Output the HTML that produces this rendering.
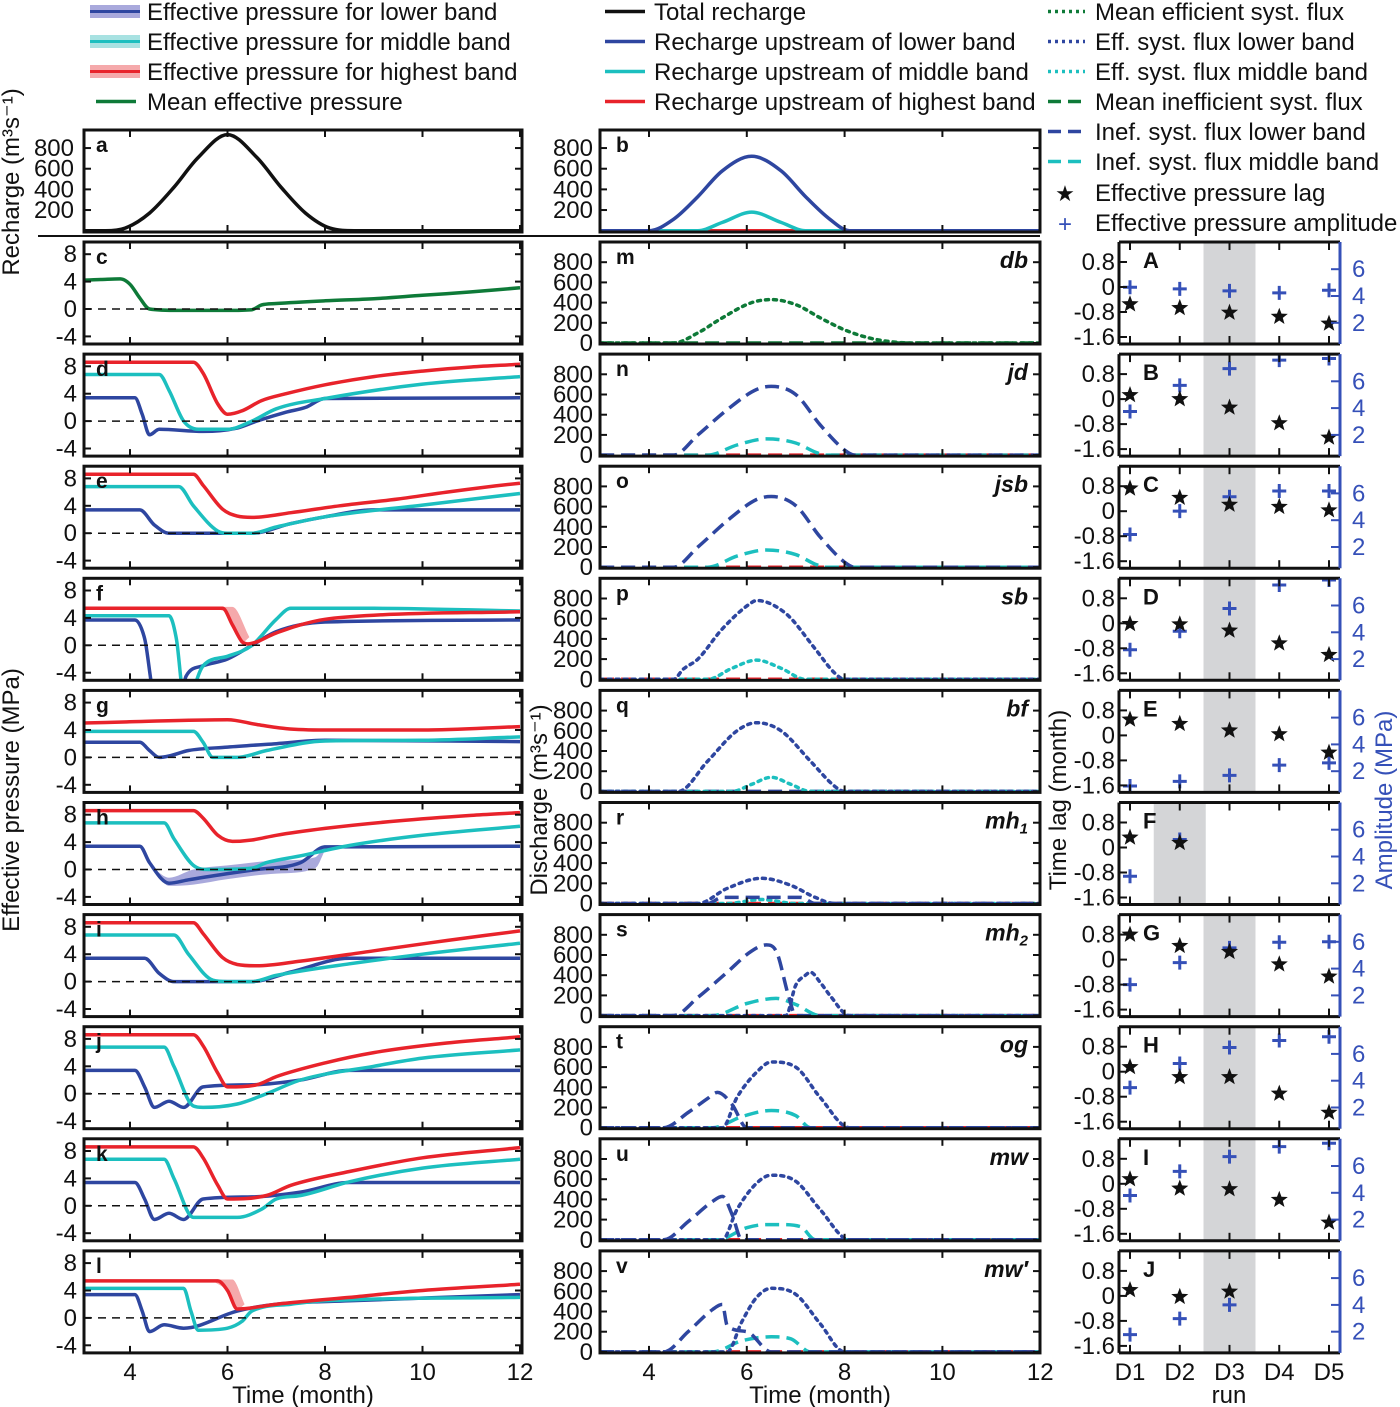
<!DOCTYPE html>
<html><head><meta charset="utf-8"><style>
html,body{margin:0;padding:0;background:#fff;}
svg{display:block;font-family:"Liberation Sans",sans-serif;}
</style></head><body>
<svg id="fig" width="1400" height="1407" viewBox="0 0 1400 1407" xmlns="http://www.w3.org/2000/svg">
<g id="legend" font-size="24" fill="#111">
 <g><rect x="90" y="5" width="50" height="13" fill="#a9a9dc"/><line x1="90" y1="11.5" x2="140" y2="11.5" stroke="#2e46a0" stroke-width="3"/><text x="147" y="20">Effective pressure for lower band</text></g>
 <g><rect x="90" y="35" width="50" height="13" fill="#a8e2e2"/><line x1="90" y1="41.5" x2="140" y2="41.5" stroke="#1cbfbf" stroke-width="3"/><text x="147" y="50">Effective pressure for middle band</text></g>
 <g><rect x="90" y="65" width="50" height="13" fill="#f5a9ab"/><line x1="90" y1="71.5" x2="140" y2="71.5" stroke="#e8232b" stroke-width="3"/><text x="147" y="80">Effective pressure for highest band</text></g>
 <g><line x1="96" y1="101.5" x2="136" y2="101.5" stroke="#0e7a38" stroke-width="3.5"/><text x="147" y="110">Mean effective pressure</text></g>
 <g><line x1="605" y1="11.5" x2="645" y2="11.5" stroke="#111" stroke-width="3.5"/><text x="654" y="20">Total recharge</text></g>
 <g><line x1="605" y1="41.5" x2="645" y2="41.5" stroke="#2e46a0" stroke-width="3.5"/><text x="654" y="50">Recharge upstream of lower band</text></g>
 <g><line x1="605" y1="71.5" x2="645" y2="71.5" stroke="#1cbfbf" stroke-width="3.5"/><text x="654" y="80">Recharge upstream of middle band</text></g>
 <g><line x1="605" y1="101.5" x2="645" y2="101.5" stroke="#e8232b" stroke-width="3.5"/><text x="654" y="110">Recharge upstream of highest band</text></g>
 <g><line x1="1048" y1="11.5" x2="1085" y2="11.5" stroke="#0e7a38" stroke-width="3.5" stroke-dasharray="3,4"/><text x="1095" y="20">Mean efficient syst. flux</text></g>
 <g><line x1="1048" y1="41.5" x2="1085" y2="41.5" stroke="#2e46a0" stroke-width="3.5" stroke-dasharray="3,4"/><text x="1095" y="50">Eff. syst. flux lower band</text></g>
 <g><line x1="1048" y1="71.5" x2="1085" y2="71.5" stroke="#1cbfbf" stroke-width="3.5" stroke-dasharray="3,4"/><text x="1095" y="80">Eff. syst. flux middle band</text></g>
 <g><line x1="1048" y1="101.5" x2="1085" y2="101.5" stroke="#0e7a38" stroke-width="3.5" stroke-dasharray="13,7"/><text x="1095" y="110">Mean inefficient syst. flux</text></g>
 <g><line x1="1048" y1="131.5" x2="1085" y2="131.5" stroke="#2e46a0" stroke-width="3.5" stroke-dasharray="13,7"/><text x="1095" y="140">Inef. syst. flux lower band</text></g>
 <g><line x1="1048" y1="161.5" x2="1085" y2="161.5" stroke="#1cbfbf" stroke-width="3.5" stroke-dasharray="13,7"/><text x="1095" y="170">Inef. syst. flux middle band</text></g>
 <g><text x="1065" y="201" font-size="22" text-anchor="middle">★</text><text x="1095" y="201">Effective pressure lag</text></g>
 <g><text x="1065" y="232" font-size="24" text-anchor="middle" fill="#3550b8">+</text><text x="1095" y="231">Effective pressure amplitude</text></g>
</g>
<line x1="38" y1="236" x2="1040" y2="236" stroke="#111" stroke-width="2"/>
<g font-size="24" fill="#111">
 <text transform="translate(19,182) rotate(-90)" text-anchor="middle">Recharge (m³s⁻¹)</text>
 <text transform="translate(19,800) rotate(-90)" text-anchor="middle">Effective pressure (MPa)</text>
 <text transform="translate(547,800) rotate(-90)" text-anchor="middle">Discharge (m³s⁻¹)</text>
 <text transform="translate(1066,800) rotate(-90)" text-anchor="middle">Time lag (month)</text>
 <text transform="translate(1392,800) rotate(-90)" text-anchor="middle" fill="#3550b8">Amplitude (MPa)</text>
 <text x="303" y="1403" text-anchor="middle">Time (month)</text>
 <text x="820" y="1403" text-anchor="middle">Time (month)</text>
 <text x="1229" y="1403" text-anchor="middle">run</text>
</g>
<g id="plots"></g>
</svg>
<script>
// ---------- data: total & band recharge (m3/s) ----------
const rechargeTotal = [[3,0],[3.5,0],[3.9,25],[4.4,170],[4.9,420],[5.4,710],[6.0,930],[6.6,710],[7.1,420],[7.6,170],[8.1,25],[8.6,0],[12,0]];
const rechargeLower = [[3,0],[4,0],[4.5,110],[5,330],[5.5,580],[6.1,720],[6.7,580],[7.2,330],[7.7,110],[8.1,0],[12,0]];
const rechargeMiddle = [[3,0],[5,0],[5.5,80],[6.1,180],[6.7,80],[7.2,0],[12,0]];
const rechargeHighest = [[3,0],[12,0]];
// ---------- effective pressure (MPa) ----------
const cMean = [[3,4.2],[3.4,4.3],[3.8,4.4],[4.0,3.6],[4.2,1.6],[4.4,0],[5,-0.2],[6,-0.2],[6.5,-0.1],[6.7,0.6],[7,0.8],[8,1.2],[9,1.5],[10,2.0],[11,2.5],[12,3.1]];
const dRed = [[3,8.6],[5.3,8.6],[5.5,7],[5.8,2.5],[6.0,1.0],[6.3,1.5],[6.7,3.0],[7.2,4.0],[8,5.3],[9,6.5],[10,7.3],[11,7.9],[12,8.3]];
const dCyan = [[3,6.8],[4.6,6.8],[4.8,4.5],[5.1,0],[5.4,-1.2],[6,-1.2],[6.5,0],[7,1.8],[8,3.3],[10,5.4],[12,6.5]];
const dBlue = [[3,3.4],[4.1,3.4],[4.25,1],[4.4,-2],[4.6,-1.2],[5.5,-1.5],[6.2,-1.0],[6.6,0],[7.2,1.3],[7.6,2.0],[8,3.3],[12,3.4]];
const eRed = [[3,8.6],[5.3,8.6],[5.5,7],[5.9,3.5],[6.2,2.5],[6.5,2.3],[7.3,3.0],[8.3,4.0],[9.5,5.0],[10.5,6.0],[11.5,6.9],[12,7.3]];
const eCyan = [[3,6.8],[5.0,6.8],[5.3,4],[5.8,0.3],[6,0],[6.5,0],[7,0.9],[8,2.4],[10,4.1],[12,5.8]];
const eBlue = [[3,3.4],[4.2,3.4],[4.5,1.2],[4.8,0],[6.5,0],[7.3,1.4],[8,2.4],[9,3.4],[12,3.4]];
const fRed = [[3,5.4],[5.9,5.4],[6.1,3],[6.3,0.5],[6.4,0.2],[7,1.8],[7.5,3],[8,3.8],[9,4.4],[12,4.9]];
const fCyan = [[3,4.3],[4.8,4.3],[4.95,1],[5.1,-7],[5.3,-7],[5.35,-5.5],[5.5,-3],[6,-1.6],[6.5,0],[7,3.8],[7.3,5.4],[9,5.4],[12,5.0]];
const fBlue = [[3,3.7],[4.1,3.7],[4.3,1],[4.5,-7],[5.05,-7],[5.15,-4.5],[5.5,-3],[6,-2],[6.5,0],[7,2],[8,3.4],[12,3.7]];
const gRed = [[3,5.0],[4,5.2],[6,5.5],[6.6,4.8],[7.2,4.2],[8,4.0],[10,4.0],[12,4.5]];
const gCyan = [[3,3.8],[5.3,3.8],[5.5,2.2],[5.7,0],[6.2,0],[6.8,1.0],[8,2.4],[10,2.5],[12,3.0]];
const gBlue = [[3,2.2],[4.2,2.2],[4.4,1],[4.6,0],[4.8,0.2],[5.2,1.0],[6,1.5],[7,2.0],[8,2.5],[12,2.3]];
const hRed = [[3,8.6],[5.3,8.6],[5.5,7.5],[5.8,5],[6.1,4.1],[6.5,4.3],[7,5.0],[8,6.0],[9.5,7.1],[11,7.9],[12,8.3]];
const hCyan = [[3,6.8],[4.7,6.8],[4.9,4.5],[5.3,0.6],[5.6,0],[6.5,0.2],[6.8,1.0],[7.5,2.0],[8.5,3.5],[10,5.0],[12,6.3]];
const hBlue = [[3,3.4],[4.2,3.4],[4.4,1],[4.8,-2],[5.2,-1.5],[6,-0.6],[6.6,0],[7.5,1.0],[8,3.3],[12,3.4]];
const hBlueLow = [[4.5,0],[4.8,-2.4],[5.3,-2.2],[6,-1.4],[7,-0.6],[7.8,0.2],[8,2.8]];
const hBlueHigh = [[4.5,0],[4.8,-1.2],[5.3,0],[6,0.6],[7,1.3],[7.8,1.8],[8,3.6]];
const iRed = [[3,8.6],[5.3,8.6],[5.5,7],[5.9,3.5],[6.2,2.5],[6.6,2.3],[7.5,3.0],[9,4.5],[10.5,6.0],[12,7.4]];
const iCyan = [[3,6.8],[4.9,6.8],[5.2,4],[5.7,0.2],[6,0],[6.5,0],[7,0.9],[8.5,2.6],[10,4.0],[12,5.6]];
const iBlue = [[3,3.4],[4.3,3.4],[4.6,1.2],[4.9,0],[6.5,0],[7.3,1.4],[8.5,3.4],[12,3.4]];
const jRed = [[3,8.6],[5.3,8.6],[5.5,7],[5.8,3],[6.0,1.0],[6.6,1.3],[7,2.5],[8,4.5],[9,6.0],[10.5,7.4],[12,8.3]];
const jCyan = [[3,6.8],[4.7,6.8],[4.9,4],[5.3,-1.8],[5.5,-2],[6.2,-1.5],[6.8,0],[7.5,2.0],[9,4.0],[10,5.2],[12,6.4]];
const jBlue = [[3,3.4],[4.1,3.4],[4.3,1],[4.5,-2],[4.8,-1.1],[5.1,-2],[5.5,1.0],[6.5,1.3],[7.5,2.0],[8.5,3.4],[12,3.4]];
const kRed = [[3,8.6],[5.3,8.6],[5.5,7],[5.8,3],[6.0,1.0],[6.8,1.5],[7.3,3.0],[8.5,5.0],[10,7.0],[12,8.5]];
const kCyan = [[3,6.8],[4.7,6.8],[4.9,4],[5.3,-1.7],[6.2,-1.7],[6.7,-0.5],[7,1.0],[7.5,1.5],[8.5,3.5],[10,5.5],[12,6.8]];
const kBlue = [[3,3.4],[4.1,3.4],[4.3,1],[4.5,-2],[4.8,-1.1],[5.1,-2],[5.5,1.0],[6.5,1.3],[7.5,2.0],[8.5,3.4],[12,3.4]];
const lRed = [[3,5.4],[5.8,5.4],[6.0,4],[6.2,1.3],[7,2.0],[8.5,3.0],[10,4.0],[12,4.9]];
const lCyan = [[3,4.3],[5.1,4.3],[5.25,1],[5.4,-1.8],[6,-1.5],[6.3,-0.5],[6.5,1.0],[7.3,2.0],[8,2.5],[12,3.0]];
const lBlue = [[3,3.4],[4.1,3.4],[4.25,1],[4.4,-2],[4.7,-1.0],[5.1,-1.5],[6.2,1.0],[7,2.0],[8.5,2.5],[12,3.4]];
// ---------- discharge (m3/s) ----------
const mEff = [[3,0],[4.5,0],[5,100],[5.5,250],[6.1,400],[6.5,430],[7,380],[7.5,250],[8,130],[8.5,50],[9,10],[9.5,0],[12,0]];
const nInefLow = [[3,0],[4.5,0],[5,200],[5.6,450],[6.2,650],[6.5,680],[7,600],[7.5,300],[8,50],[8.2,0],[12,0]];
const nInefMid = [[3,0],[5.2,0],[5.8,100],[6.4,160],[7,120],[7.4,30],[7.6,0],[12,0]];
const oInefLow = [[3,0],[4.5,0],[5,200],[5.6,460],[6.2,670],[6.5,700],[7,610],[7.5,300],[8,50],[8.2,0],[12,0]];
const oInefMid = [[3,0],[5.2,0],[5.8,110],[6.4,170],[7,125],[7.4,30],[7.6,0],[12,0]];
const pEffLow = [[3,0],[4.5,0],[4.7,100],[5,200],[5.5,500],[6.1,760],[6.2,780],[6.8,650],[7.4,300],[7.8,60],[8,0],[12,0]];
const pEffMid = [[3,0],[5.2,0],[5.7,110],[6.2,190],[6.7,110],[7.2,0],[12,0]];
const qEffLow = [[3,0],[4.6,0],[5.2,300],[5.8,600],[6.2,680],[6.7,600],[7.3,300],[7.8,50],[8,0],[12,0]];
const qEffMid = [[3,0],[5.7,0],[6.1,70],[6.5,140],[6.9,70],[7.3,0],[12,0]];
const rEffLow = [[3,0],[5,0],[5.6,150],[6.3,250],[6.9,180],[7.4,60],[7.8,0],[12,0]];
const rInefLow = [[3,0],[5.2,0],[5.5,60],[6.3,60],[7.1,60],[7.4,0],[12,0]];
const rEffMid = [[3,0],[5.6,0],[6.3,40],[7,0],[12,0]];
const sInefLow = [[3,0],[4.5,0],[5,180],[5.6,430],[6.1,640],[6.4,700],[6.6,640],[6.85,200],[7.0,0],[12,0]];
const sEffLow = [[3,0],[6.8,0],[7.0,300],[7.2,400],[7.3,430],[7.5,330],[7.7,200],[8.1,0],[12,0]];
const sInefMid = [[3,0],[5.3,0],[6,120],[6.6,170],[7.0,110],[7.5,0],[12,0]];
const tInefLow = [[3,0],[4.3,0],[4.8,150],[5.2,290],[5.4,350],[5.7,230],[6.0,0],[12,0]];
const tEffLow = [[3,0],[5.5,0],[5.8,300],[6.2,550],[6.5,650],[7,600],[7.5,300],[8.1,0],[12,0]];
const tInefMid = [[3,0],[5.3,0],[5.9,110],[6.5,170],[7,120],[7.3,0],[12,0]];
const uInefLow = [[3,0],[4.3,0],[4.8,180],[5.3,380],[5.5,430],[5.7,250],[5.9,0],[12,0]];
const uEffLow = [[3,0],[5.5,0],[5.8,300],[6.2,560],[6.5,640],[7,580],[7.5,300],[8.1,0],[12,0]];
const uInefMid = [[3,0],[5.4,0],[6,120],[6.4,150],[6.7,150],[7.1,130],[7.4,0],[12,0]];
const vInefLow = [[3,0],[4.3,0],[4.8,200],[5.3,420],[5.5,470],[5.6,260],[6.0,200],[6.5,0],[12,0]];
const vEffLow = [[3,0],[5.6,0],[5.9,300],[6.2,540],[6.5,630],[7,570],[7.5,280],[8.0,0],[12,0]];
const vInefMid = [[3,0],[5.3,0],[5.9,110],[6.5,150],[6.9,130],[7.3,0],[12,0]];
// ---------- lag (month) and amplitude (MPa) ----------
const runs = ["D1","D2","D3","D4","D5"];
const lagA = [-0.55,-0.67,-0.82,-0.95,-1.17], ampA = [4.65,4.53,4.38,4.23,4.43];
const lagB = [0.13,0,-0.27,-0.77,-1.23], ampB = [3.75,5.7,6.95,7.58,7.7];
const lagC = [0.73,0.43,0.21,0.14,0.03], ampC = [2.93,4.68,5.75,6.18,6.18];
const lagD = [-0.02,-0.03,-0.23,-0.64,-1.01], ampD = [2.7,4.08,5.78,7.53,7.9];
const lagE = [0.51,0.37,0.16,0.04,-0.55], ampE = [0.9,1.24,1.69,2.45,2.62];
const lagF = [0.32,0.15], ampF = [2.53,5.27];
const lagG = [0.8,0.44,0.25,-0.15,-0.54], ampG = [2.8,4.45,5.55,5.97,6.0];
const lagH = [0.15,-0.17,-0.17,-0.7,-1.31], ampH = [3.48,5.28,6.48,7.0,7.28];
const lagI = [0.15,-0.15,-0.17,-0.51,-1.24], ampI = [3.8,5.6,6.7,7.45,7.7];
const lagJ = [0.19,-0.03,0.14], ampJ = [1.78,2.98,4.0];

const NS = "http://www.w3.org/2000/svg";
const plots = document.getElementById('plots');
const RED = "#e8232b", CYAN = "#1cbfbf", BLUE = "#2e46a0", GREEN = "#0e7a38", PBLUE = "#3550b8";
const FS = 24;
let clipN = 0;
function mk(tag, attrs, parent){ const e = document.createElementNS(NS, tag); for (const k in attrs) e.setAttribute(k, attrs[k]); (parent||plots).appendChild(e); return e; }
function monoPath(p){
  const n = p.length; if (n < 2) return "";
  const m = [], t = [];
  for (let i=0;i<n-1;i++){ const dx = p[i+1][0]-p[i][0]; m.push(dx===0?0:(p[i+1][1]-p[i][1])/dx); }
  t[0]=m[0]; t[n-1]=m[n-2];
  for (let i=1;i<n-1;i++){ t[i] = (m[i-1]*m[i] <= 0) ? 0 : (m[i-1]+m[i])/2; }
  for (let i=0;i<n-1;i++){ if (m[i]===0){ t[i]=0; t[i+1]=0; continue; }
    const a=t[i]/m[i], b=t[i+1]/m[i], s=a*a+b*b; if (s>9){ const k=3/Math.sqrt(s); t[i]=k*a*m[i]; t[i+1]=k*b*m[i]; } }
  let d = "M"+p[0][0].toFixed(1)+","+p[0][1].toFixed(1);
  for (let i=0;i<n-1;i++){ const dx=(p[i+1][0]-p[i][0])/3;
    d += "C"+(p[i][0]+dx).toFixed(1)+","+(p[i][1]+t[i]*dx).toFixed(1)+" "+(p[i+1][0]-dx).toFixed(1)+","+(p[i+1][1]-t[i+1]*dx).toFixed(1)+" "+p[i+1][0].toFixed(1)+","+p[i+1][1].toFixed(1); }
  return d;
}
function makePanel(name, x0, y0, w, h){
  const g = mk('g', {});
  
  
  const id = 'clip'+(clipN++);
  const cp = mk('clipPath', {id:id}, g); mk('rect', {x:x0, y:y0, width:w, height:h}, cp);
  const inner = mk('g', {'clip-path':'url(#'+id+')'}, g);
  return {g, inner};
}
function border(g, x0, y0, w, h){ mk('rect', {x:x0, y:y0, width:w, height:h, fill:'none', stroke:'#111', 'stroke-width':3}, g); }
function line(g, data, sx, sy, color, style, nm){
  const p = data.map(d => [sx(d[0]), sy(d[1])]);
  const a = {d:monoPath(p), fill:'none', stroke:color, 'stroke-width':3.5, 'stroke-linejoin':'round'};
  if (style==='dot') { a['stroke-dasharray']='3,5'; a['stroke-linecap']='round'; a['stroke-width']=3.5; }
  if (style==='dash') a['stroke-dasharray']='14,7';
  const e = mk('path', a, g);
  
  
  return e;
}
function band(g, lo, hi, sx, sy, color, nm){
  const pl = lo.map(d=>[sx(d[0]),sy(d[1])]), ph = hi.map(d=>[sx(d[0]),sy(d[1])]).reverse();
  const e = mk('path', {d:monoPath(pl)+" L"+monoPath(ph).slice(1)+"Z", fill:color, stroke:'none'}, g);
  
  
}
function txt(g, x, y, s, attrs, nm){ const e = mk('text', Object.assign({x:x, y:y, 'font-size':FS, fill:'#111'}, attrs||{}), g); e.textContent = s;   return e; }

const tops = [242,354.1,466.2,578.3,690.4,802.5,914.6,1026.7,1138.8,1250.9];
const PH = 102;
// ---- left column ----
const LX = 84, LW = 438;
const lx = t => 130 + (t-4)*48.75;
function leftAxes(g, top, letter, showX){
  const sy = v => top + 67 - v*6.85;
  mk('line', {x1:LX, x2:LX+LW, y1:sy(0), y2:sy(0), stroke:'#111', 'stroke-width':1.5, 'stroke-dasharray':'8,6'}, g);
  [4,6,8,10,12].forEach(t => { mk('line',{x1:lx(t),x2:lx(t),y1:top,y2:top+7,stroke:'#111','stroke-width':2},g); mk('line',{x1:lx(t),x2:lx(t),y1:top+PH,y2:top+PH-7,stroke:'#111','stroke-width':2},g);
    if (showX) txt(g, lx(t), 1380, String(t), {'text-anchor':'middle'}, 'x-tick-label'); });
  [8,4,0,-4].forEach(v => { mk('line',{x1:LX,x2:LX+7,y1:sy(v),y2:sy(v),stroke:'#111','stroke-width':2},g); mk('line',{x1:LX+LW,x2:LX+LW-7,y1:sy(v),y2:sy(v),stroke:'#111','stroke-width':2},g);
    txt(g, 77, sy(v)+8, String(v), {'text-anchor':'end'}, 'y-tick-label'); });
  txt(g, LX+12, top+22, letter, {'font-weight':'bold', 'font-size':21}, 'panel-label-'+letter);
  return sy;
}
const leftPanels = [
  ['c', [[cMean,GREEN]], null],
  ['d', [[dBlue,BLUE],[dCyan,CYAN],[dRed,RED]], null],
  ['e', [[eBlue,BLUE],[eCyan,CYAN],[eRed,RED]], null],
  ['f', [[fBlue,BLUE],[fCyan,CYAN],[fRed,RED]], 'fshade'],
  ['g', [[gBlue,BLUE],[gCyan,CYAN],[gRed,RED]], null],
  ['h', [[hBlue,BLUE],[hCyan,CYAN],[hRed,RED]], 'hshade'],
  ['i', [[iBlue,BLUE],[iCyan,CYAN],[iRed,RED]], null],
  ['j', [[jBlue,BLUE],[jCyan,CYAN],[jRed,RED]], null],
  ['k', [[kBlue,BLUE],[kCyan,CYAN],[kRed,RED]], null],
  ['l', [[lBlue,BLUE],[lCyan,CYAN],[lRed,RED]], 'lshade']
];
leftPanels.forEach((pd, i) => {
  const top = tops[i];
  const P = makePanel('pressure-panel-'+pd[0], LX, top, LW, PH);
  const sy = leftAxes(P.g, top, pd[0], i===9);
  if (pd[2]==='hshade') band(P.inner, hBlueLow, hBlueHigh, lx, sy, '#a9a9dc', 'lower-band-range');
  if (pd[2]==='fshade') band(P.inner, [[5.75,5.4],[6.0,4.5],[6.3,0.2]], [[5.75,5.6],[6.1,5.6],[6.45,1.2]], lx, sy, '#f5a9ab', 'highest-band-range');
  if (pd[2]==='lshade') band(P.inner, [[5.7,5.4],[6.0,3.8],[6.2,1.0]], [[5.7,5.6],[6.1,5.6],[6.35,2.0]], lx, sy, '#f5a9ab', 'highest-band-range');
  pd[1].forEach(s => line(P.inner, s[0], lx, sy, s[1], 'solid', 'pressure-line'));
  border(P.g, LX, top, LW, PH);
});
// panel a
(function(){
  const top = 130;
  const P = makePanel('total-recharge-panel', LX, top, LW, PH);
  const sy = v => top + 100.7 - v*0.1033;
  line(P.inner, rechargeTotal, lx, sy, '#111', 'solid', 'total-recharge-line');
  [4,6,8,10,12].forEach(t => { mk('line',{x1:lx(t),x2:lx(t),y1:top,y2:top+7,stroke:'#111','stroke-width':2},P.g); mk('line',{x1:lx(t),x2:lx(t),y1:top+PH,y2:top+PH-7,stroke:'#111','stroke-width':2},P.g); });
  [800,600,400,200].forEach(v => { mk('line',{x1:LX,x2:LX+7,y1:sy(v),y2:sy(v),stroke:'#111','stroke-width':2},P.g); mk('line',{x1:LX+LW,x2:LX+LW-7,y1:sy(v),y2:sy(v),stroke:'#111','stroke-width':2},P.g); txt(P.g, 74, sy(v)+8, String(v), {'text-anchor':'end'}, 'y-tick-label'); });
  txt(P.g, LX+12, top+22, 'a', {'font-weight':'bold','font-size':21}, 'panel-label-a');
  border(P.g, LX, top, LW, PH);
})();
// ---- middle column ----
const MX = 600, MW = 440;
const mx = t => 649 + (t-4)*48.9;
function midAxes(g, top, letter, tag, showX){
  const sy = v => top + 101 - v*0.101;
  [4,6,8,10,12].forEach(t => { mk('line',{x1:mx(t),x2:mx(t),y1:top,y2:top+7,stroke:'#111','stroke-width':2},g); mk('line',{x1:mx(t),x2:mx(t),y1:top+PH,y2:top+PH-7,stroke:'#111','stroke-width':2},g);
    if (showX) txt(g, mx(t), 1380, String(t), {'text-anchor':'middle'}, 'x-tick-label'); });
  [800,600,400,200,0].forEach(v => { mk('line',{x1:MX,x2:MX+7,y1:sy(v),y2:sy(v),stroke:'#111','stroke-width':2},g); mk('line',{x1:MX+MW,x2:MX+MW-7,y1:sy(v),y2:sy(v),stroke:'#111','stroke-width':2},g); txt(g, 593, sy(v)+8, String(v), {'text-anchor':'end'}, 'y-tick-label'); });
  txt(g, MX+16, top+22, letter, {'font-weight':'bold','font-size':21}, 'panel-label-'+letter);
  if (tag){ const e = txt(g, 1028, top+26, '', {'text-anchor':'end','font-weight':'bold','font-style':'italic','font-size':23}, 'run-name');
    e.innerHTML = tag; }
  return sy;
}
(function(){
  const top = 130;
  const P = makePanel('band-recharge-panel', MX, top, MW, PH);
  const sy = v => top + 100.7 - v*0.1033;
  line(P.inner, rechargeHighest, mx, sy, RED, 'solid', 'recharge-highest-line');
  line(P.inner, rechargeMiddle, mx, sy, CYAN, 'solid', 'recharge-middle-line');
  line(P.inner, rechargeLower, mx, sy, BLUE, 'solid', 'recharge-lower-line');
  [4,6,8,10,12].forEach(t => { mk('line',{x1:mx(t),x2:mx(t),y1:top,y2:top+7,stroke:'#111','stroke-width':2},P.g); mk('line',{x1:mx(t),x2:mx(t),y1:top+PH,y2:top+PH-7,stroke:'#111','stroke-width':2},P.g); });
  [800,600,400,200].forEach(v => { mk('line',{x1:MX,x2:MX+7,y1:sy(v),y2:sy(v),stroke:'#111','stroke-width':2},P.g); mk('line',{x1:MX+MW,x2:MX+MW-7,y1:sy(v),y2:sy(v),stroke:'#111','stroke-width':2},P.g); txt(P.g, 593, sy(v)+8, String(v), {'text-anchor':'end'}, 'y-tick-label'); });
  txt(P.g, MX+16, top+22, 'b', {'font-weight':'bold','font-size':21}, 'panel-label-b');
  border(P.g, MX, top, MW, PH);
})();
const flat = [[3,0],[12,0]];
const midPanels = [
  ['m','db', [[flat,GREEN,'dash'],[mEff,GREEN,'dot']]],
  ['n','jd', [[flat,RED,'dash'],[nInefMid,CYAN,'dash'],[nInefLow,BLUE,'dash']]],
  ['o','jsb', [[flat,RED,'dash'],[oInefMid,CYAN,'dash'],[oInefLow,BLUE,'dash']]],
  ['p','sb', [[flat,RED,'dash'],[pEffMid,CYAN,'dot'],[pEffLow,BLUE,'dot']]],
  ['q','bf', [[flat,BLUE,'dash'],[qEffMid,CYAN,'dot'],[qEffLow,BLUE,'dot']]],
  ['r','mh<tspan font-size="15" dy="5">1</tspan>', [[flat,RED,'dash'],[rEffMid,CYAN,'dot'],[rInefLow,BLUE,'dash'],[rEffLow,BLUE,'dot']]],
  ['s','mh<tspan font-size="15" dy="5">2</tspan>', [[flat,RED,'dash'],[sInefMid,CYAN,'dash'],[sInefLow,BLUE,'dash'],[sEffLow,BLUE,'dot']]],
  ['t','og', [[flat,RED,'dash'],[tInefMid,CYAN,'dash'],[tInefLow,BLUE,'dash'],[tEffLow,BLUE,'dot']]],
  ['u','mw', [[flat,RED,'dash'],[uInefMid,CYAN,'dash'],[uInefLow,BLUE,'dash'],[uEffLow,BLUE,'dot']]],
  ['v','mw′', [[flat,RED,'dash'],[vInefMid,CYAN,'dash'],[vInefLow,BLUE,'dash'],[vEffLow,BLUE,'dot']]]
];
midPanels.forEach((pd, i) => {
  const top = tops[i];
  const P = makePanel('discharge-panel-'+pd[0], MX, top, MW, PH);
  const sy = midAxes(P.g, top, pd[0], pd[1], i===9);
  pd[2].forEach(s => line(P.inner, s[0], mx, sy, s[1], s[2], 'discharge-line'));
  border(P.g, MX, top, MW, PH);
});
// ---- right column ----
const RX = 1119, RW = 221;
const rx = i => 1130 + i*49.75;
const rightPanels = [['A',lagA,ampA,2],['B',lagB,ampB,2],['C',lagC,ampC,2],['D',lagD,ampD,2],['E',lagE,ampE,2],['F',lagF,ampF,1],['G',lagG,ampG,2],['H',lagH,ampH,2],['I',lagI,ampI,2],['J',lagJ,ampJ,2]];
function star(g, cx, cy, r){
  let pts = [];
  for (let k=0;k<10;k++){ const a = -Math.PI/2 + k*Math.PI/5; const rr = k%2 ? r*0.42 : r; pts.push((cx+rr*Math.cos(a)).toFixed(1)+','+(cy+rr*Math.sin(a)).toFixed(1)); }
  return mk('polygon', {points:pts.join(' '), fill:'#111'}, g);
}
rightPanels.forEach((pd, i) => {
  const top = tops[i];
  const P = makePanel('lag-amplitude-panel-'+pd[0], RX, top, RW, PH);
  const sl = v => top + 45 - v*31.25;
  const sa = v => top + 54 - (v-4)*13.4;
  mk('rect', {x:rx(pd[3])-26, y:top, width:52, height:PH, fill:'#d4d5d7'}, P.inner);
  runs.forEach((r, j) => { mk('line',{x1:rx(j),x2:rx(j),y1:top,y2:top+8,stroke:'#111','stroke-width':2},P.g); mk('line',{x1:rx(j),x2:rx(j),y1:top+PH,y2:top+PH-8,stroke:'#111','stroke-width':2},P.g);
    if (i===9) txt(P.g, rx(j), 1380, r, {'text-anchor':'middle'}, 'x-tick-label'); });
  [0.8,0,-0.8,-1.6].forEach(v => { mk('line',{x1:RX,x2:RX+8,y1:sl(v),y2:sl(v),stroke:'#111','stroke-width':2},P.g); txt(P.g, 1115, sl(v)+8, String(v), {'text-anchor':'end'}, 'lag-tick-label'); });
  [2,4,6].forEach(v => { mk('line',{x1:RX+RW,x2:RX+RW-9,y1:sa(v),y2:sa(v),stroke:PBLUE,'stroke-width':2},P.g); txt(P.g, 1352, sa(v)+8, String(v), {fill:PBLUE}, 'amplitude-tick-label'); });
  pd[2].forEach((v, j) => {
    const cx = rx(j), cy = sa(v);
    const e = mk('path', {d:'M'+(cx-7)+','+cy+'H'+(cx+7)+'M'+cx+','+(cy-7)+'V'+(cy+7), stroke:PBLUE, 'stroke-width':3}, P.inner);
    
    
  });
  pd[1].forEach((v, j) => {
    const e = star(P.inner, rx(j), sl(v), 9);
    
    
  });
  txt(P.g, 1143, top+26, pd[0], {'font-weight':'bold','font-size':22}, 'panel-label-'+pd[0]);
  mk('line', {x1:RX, y1:top, x2:RX+RW, y2:top, stroke:'#111','stroke-width':3}, P.g);
  mk('line', {x1:RX, y1:top+PH, x2:RX+RW, y2:top+PH, stroke:'#111','stroke-width':3}, P.g);
  mk('line', {x1:RX, y1:top, x2:RX, y2:top+PH, stroke:'#111','stroke-width':3}, P.g);
  mk('line', {x1:RX+RW, y1:top, x2:RX+RW, y2:top+PH, stroke:PBLUE,'stroke-width':3}, P.g);
});
</script>
</body></html>
